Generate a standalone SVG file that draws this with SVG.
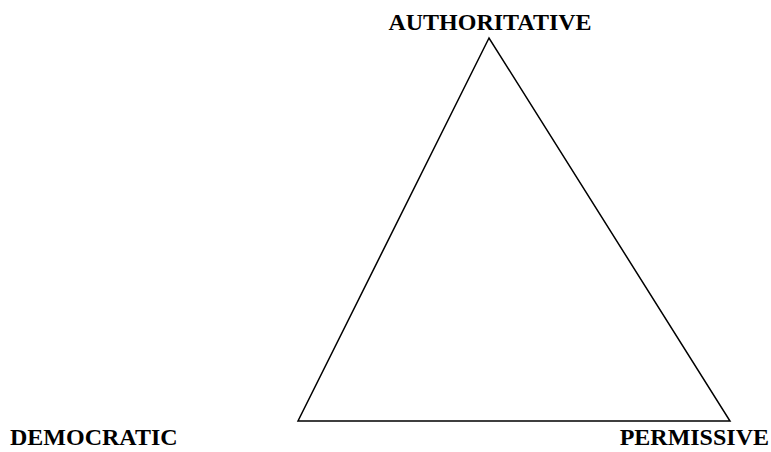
<svg xmlns="http://www.w3.org/2000/svg" width="771" height="452" viewBox="0 0 771 452">
<style>
.lbl{font-family:"Liberation Serif","Times New Roman",serif;font-weight:bold;font-size:24px;fill:#000}
.edge{stroke:#000;stroke-width:1.5;fill:none}
</style>
<rect width="771" height="452" fill="#fff"/>
<g id="connectors">
<path class="edge" d="M489,38 L298,421 L730,421 Z" stroke-linejoin="miter"/>
</g>
<g id="node-authoritative"><text class="lbl" x="490" y="30" text-anchor="middle">AUTHORITATIVE</text></g>
<g id="node-democratic"><text class="lbl" x="10" y="445">DEMOCRATIC</text></g>
<g id="node-permissive"><text class="lbl" x="769" y="445" text-anchor="end">PERMISSIVE</text></g>
</svg>
